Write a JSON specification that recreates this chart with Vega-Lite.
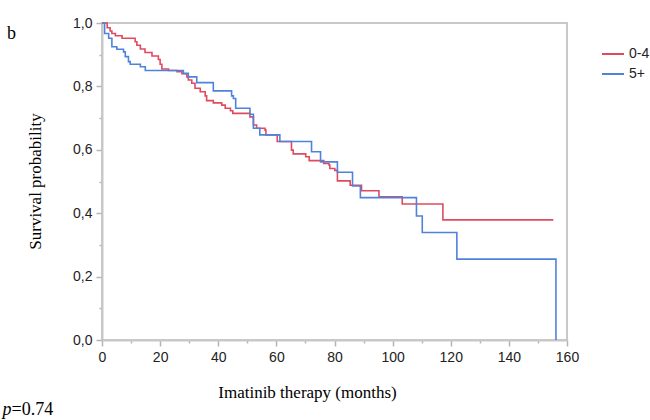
{
  "$schema": "https://vega.github.io/schema/vega-lite/v6.json",
  "autosize": "none",
  "width": 465,
  "height": 317,
  "padding": {"left": 102, "top": 23, "right": 83, "bottom": 80},
  "background": "white",
  "config": {
    "view": {"stroke": "#c8c8c8", "strokeWidth": 2},
    "font": "Liberation Sans"
  },
  "title": {
    "text": "b",
    "anchor": "start",
    "frame": "bounds",
    "font": "Liberation Serif",
    "fontSize": 18,
    "fontWeight": "normal",
    "color": "#000000",
    "offset": 0,
    "dx": 5,
    "dy": 27
  },
  "data": {
    "values": [
      {"group": "0-4", "t": 0, "s": 1.0},
      {"group": "0-4", "t": 1.8, "s": 0.985},
      {"group": "0-4", "t": 2.8, "s": 0.975},
      {"group": "0-4", "t": 3.4, "s": 0.967},
      {"group": "0-4", "t": 4.6, "s": 0.96},
      {"group": "0-4", "t": 6.9, "s": 0.952},
      {"group": "0-4", "t": 11.4, "s": 0.941},
      {"group": "0-4", "t": 12.0, "s": 0.93},
      {"group": "0-4", "t": 13.2, "s": 0.918},
      {"group": "0-4", "t": 14.8, "s": 0.907},
      {"group": "0-4", "t": 17.2, "s": 0.896},
      {"group": "0-4", "t": 19.4, "s": 0.885},
      {"group": "0-4", "t": 20.0, "s": 0.87},
      {"group": "0-4", "t": 20.6, "s": 0.855},
      {"group": "0-4", "t": 22.9, "s": 0.85},
      {"group": "0-4", "t": 25.8, "s": 0.846},
      {"group": "0-4", "t": 27.5, "s": 0.84},
      {"group": "0-4", "t": 29.2, "s": 0.83},
      {"group": "0-4", "t": 29.7, "s": 0.82},
      {"group": "0-4", "t": 30.9, "s": 0.81},
      {"group": "0-4", "t": 32.0, "s": 0.794},
      {"group": "0-4", "t": 33.8, "s": 0.783},
      {"group": "0-4", "t": 35.5, "s": 0.77},
      {"group": "0-4", "t": 36.0, "s": 0.755},
      {"group": "0-4", "t": 38.3, "s": 0.748},
      {"group": "0-4", "t": 41.2, "s": 0.741},
      {"group": "0-4", "t": 42.4, "s": 0.731},
      {"group": "0-4", "t": 44.2, "s": 0.723},
      {"group": "0-4", "t": 45.0, "s": 0.715},
      {"group": "0-4", "t": 50.9, "s": 0.704},
      {"group": "0-4", "t": 52.1, "s": 0.678},
      {"group": "0-4", "t": 53.2, "s": 0.668},
      {"group": "0-4", "t": 56.1, "s": 0.662},
      {"group": "0-4", "t": 56.4, "s": 0.647},
      {"group": "0-4", "t": 60.3, "s": 0.626},
      {"group": "0-4", "t": 65.2, "s": 0.599},
      {"group": "0-4", "t": 65.8, "s": 0.587},
      {"group": "0-4", "t": 70.1, "s": 0.578},
      {"group": "0-4", "t": 71.3, "s": 0.566},
      {"group": "0-4", "t": 76.3, "s": 0.557},
      {"group": "0-4", "t": 78.1, "s": 0.552},
      {"group": "0-4", "t": 78.4, "s": 0.541},
      {"group": "0-4", "t": 80.1, "s": 0.535},
      {"group": "0-4", "t": 81.0, "s": 0.502},
      {"group": "0-4", "t": 85.4, "s": 0.488},
      {"group": "0-4", "t": 89.3, "s": 0.471},
      {"group": "0-4", "t": 95.3, "s": 0.452},
      {"group": "0-4", "t": 103.3, "s": 0.429},
      {"group": "0-4", "t": 117.3, "s": 0.379},
      {"group": "0-4", "t": 155.3, "s": 0.379},
      {"group": "5+", "t": 0, "s": 1.0},
      {"group": "5+", "t": 0.9, "s": 0.967},
      {"group": "5+", "t": 2.3, "s": 0.952},
      {"group": "5+", "t": 3.4, "s": 0.925},
      {"group": "5+", "t": 5.1, "s": 0.917},
      {"group": "5+", "t": 7.4, "s": 0.909},
      {"group": "5+", "t": 8.0, "s": 0.894},
      {"group": "5+", "t": 9.1, "s": 0.878},
      {"group": "5+", "t": 9.7, "s": 0.87},
      {"group": "5+", "t": 13.2, "s": 0.862},
      {"group": "5+", "t": 14.9, "s": 0.85},
      {"group": "5+", "t": 28.0, "s": 0.841},
      {"group": "5+", "t": 29.7, "s": 0.83},
      {"group": "5+", "t": 32.6, "s": 0.812},
      {"group": "5+", "t": 38.3, "s": 0.786},
      {"group": "5+", "t": 44.6, "s": 0.77},
      {"group": "5+", "t": 45.2, "s": 0.762},
      {"group": "5+", "t": 46.0, "s": 0.731},
      {"group": "5+", "t": 50.9, "s": 0.712},
      {"group": "5+", "t": 52.1, "s": 0.668},
      {"group": "5+", "t": 54.3, "s": 0.647},
      {"group": "5+", "t": 61.2, "s": 0.626},
      {"group": "5+", "t": 72.1, "s": 0.594},
      {"group": "5+", "t": 75.2, "s": 0.562},
      {"group": "5+", "t": 81.0, "s": 0.529},
      {"group": "5+", "t": 86.2, "s": 0.486},
      {"group": "5+", "t": 88.9, "s": 0.449},
      {"group": "5+", "t": 108.2, "s": 0.391},
      {"group": "5+", "t": 110.2, "s": 0.339},
      {"group": "5+", "t": 122.1, "s": 0.255},
      {"group": "5+", "t": 156.2, "s": 0.0}
    ]
  },
  "encoding": {
    "color": {
      "field": "group",
      "type": "nominal",
      "scale": {"domain": ["0-4", "5+"], "range": ["#e04a5f", "#4f83db"]},
      "legend": {
        "orient": "none",
        "legendX": 499,
        "legendY": 22,
        "title": null,
        "padding": 0,
        "symbolType": "stroke",
        "symbolSize": 484,
        "symbolStrokeWidth": 2,
        "clipHeight": 18,
        "rowPadding": 2,
        "labelFont": "Liberation Sans",
        "labelFontSize": 14,
        "labelColor": "#222222",
        "labelOffset": 4
      }
    }
  },
  "layer": [
    {
      "transform": [{"filter": "datum.group == '0-4'"}],
      "mark": {"type": "line", "interpolate": "step-after", "strokeWidth": 1.6, "clip": false},
      "encoding": {
        "x": {
          "field": "t",
          "type": "quantitative",
          "scale": {"domain": [0, 160], "nice": false, "zero": false},
          "axis": {
            "orient": "bottom",
            "values": [0, 10, 20, 30, 40, 50, 60, 70, 80, 90, 100, 110, 120, 130, 140, 150, 160],
            "labelExpr": "datum.value % 20 == 0 ? datum.label : ''",
            "labelFlush": false,
            "labelOverlap": false,
            "labelFont": "Liberation Sans",
            "labelFontSize": 14,
            "labelColor": "#222222",
            "labelPadding": 4,
            "tickColor": "#b4b4b4",
            "tickWidth": 1.5,
            "tickSize": {"condition": {"test": "datum.value % 20 == 0", "value": 6}, "value": 3},
            "domainColor": "#c8c8c8",
            "domainWidth": 2,
            "grid": false,
            "title": "Imatinib therapy (months)",
            "titleFont": "Liberation Serif",
            "titleFontSize": 17,
            "titleFontWeight": "normal",
            "titleColor": "#000000",
            "titleAlign": "center",
            "titleBaseline": "alphabetic",
            "titleX": 205,
            "titleY": 57
          }
        },
        "y": {
          "field": "s",
          "type": "quantitative",
          "scale": {"domain": [0, 1], "nice": false},
          "axis": {
            "orient": "left",
            "values": [0, 0.1, 0.2, 0.3, 0.4, 0.5, 0.6, 0.7, 0.8, 0.9, 1.0],
            "labelExpr": "round(datum.value * 10) % 2 == 0 ? replace(format(datum.value, '.1f'), '.', ',') : ''",
            "labelFlush": false,
            "labelOverlap": false,
            "labelFont": "Liberation Sans",
            "labelFontSize": 14,
            "labelColor": "#222222",
            "labelPadding": 4,
            "tickColor": "#b4b4b4",
            "tickWidth": 1.5,
            "tickSize": {"condition": {"test": "round(datum.value * 10) % 2 == 0", "value": 6}, "value": 3},
            "domainColor": "#c8c8c8",
            "domainWidth": 2,
            "grid": false,
            "title": "Survival probability",
            "titleFont": "Liberation Serif",
            "titleFontSize": 17,
            "titleFontWeight": "normal",
            "titleColor": "#000000",
            "titleAngle": -90,
            "titleAlign": "center",
            "titleBaseline": "middle",
            "titleX": -67,
            "titleY": 158
          }
        }
      }
    },
    {
      "transform": [{"filter": "datum.group == '5+'"}],
      "mark": {"type": "line", "interpolate": "step-after", "strokeWidth": 1.6, "clip": false},
      "encoding": {
        "x": {
          "field": "t",
          "type": "quantitative",
          "axis": {
            "orient": "bottom",
            "domain": false,
            "ticks": false,
            "labels": false,
            "grid": false,
            "title": "=0.74",
            "titleFont": "Liberation Serif",
            "titleFontSize": 18,
            "titleFontWeight": "normal",
            "titleColor": "#000000",
            "titleAlign": "left",
            "titleBaseline": "alphabetic",
            "titleX": -91,
            "titleY": 74
          }
        },
        "y": {
          "field": "s",
          "type": "quantitative",
          "axis": {
            "orient": "left",
            "domain": false,
            "ticks": false,
            "labels": false,
            "grid": false,
            "title": "p",
            "titleFont": "Liberation Serif",
            "titleFontSize": 18,
            "titleFontStyle": "italic",
            "titleFontWeight": "normal",
            "titleColor": "#000000",
            "titleAngle": 0,
            "titleAlign": "left",
            "titleBaseline": "alphabetic",
            "titleX": -100,
            "titleY": 391
          }
        }
      }
    }
  ],
  "resolve": {"axis": {"x": "independent", "y": "independent"}}
}
